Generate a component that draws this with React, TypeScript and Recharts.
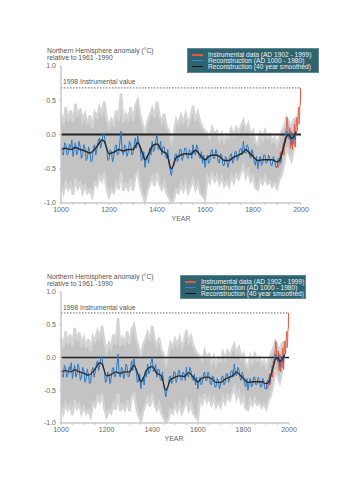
import { Area, ComposedChart, Line, ReferenceLine, XAxis, YAxis } from "recharts";

const FONT = '"Liberation Sans", Arial, sans-serif';

// annual reconstruction, read every 5 years from 1000 to 1980
const reconStart = 1000;
const reconStep = 5;
const reconValues = [
  -0.18, -0.28, -0.3, -0.12, -0.15, -0.3, -0.28, -0.14, -0.2, -0.08,
  -0.32, -0.22, -0.12, -0.3, -0.25, -0.1, -0.18, -0.35, -0.3, -0.15,
  -0.2, -0.38, -0.34, -0.18, -0.25, -0.4, -0.38, -0.2, -0.15, -0.3,
  -0.22, -0.1, -0.05, -0.2, -0.12, 0.0, 0.02, -0.15, -0.2, -0.38,
  -0.36, -0.22, -0.25, -0.4, -0.32, -0.18, -0.15, -0.3, -0.28, -0.12,
  0.05, -0.25, -0.3, -0.15, -0.18, -0.32, -0.26, -0.1, -0.14, -0.3,
  -0.28, -0.15, -0.05, -0.2, -0.02, -0.15, -0.22, -0.38, -0.35, -0.25,
  -0.48, -0.35, -0.3, -0.42, -0.2, -0.3, -0.1, -0.25, -0.22, -0.08,
  0.0, -0.22, -0.2, -0.1, -0.3, -0.18, -0.18, -0.32, -0.35, -0.22,
  -0.42, -0.52, -0.6, -0.48, -0.45, -0.3, -0.28, -0.4, -0.35, -0.22,
  -0.22, -0.38, -0.32, -0.2, -0.2, -0.33, -0.35, -0.22, -0.25, -0.35,
  -0.15, -0.28, -0.3, -0.15, -0.2, -0.32, -0.35, -0.25, -0.42, -0.3,
  -0.48, -0.38, -0.3, -0.42, -0.38, -0.25, -0.22, -0.35, -0.35, -0.22,
  -0.28, -0.4, -0.42, -0.28, -0.3, -0.45, -0.45, -0.32, -0.35, -0.48,
  -0.42, -0.3, -0.28, -0.42, -0.38, -0.25, -0.25, -0.38, -0.32, -0.22,
  -0.2, -0.3, -0.1, -0.25, -0.28, -0.15, -0.18, -0.3, -0.35, -0.22,
  -0.28, -0.4, -0.45, -0.32, -0.5, -0.38, -0.32, -0.45, -0.42, -0.3,
  -0.3, -0.42, -0.4, -0.3, -0.35, -0.45, -0.45, -0.32, -0.38, -0.48,
  -0.48, -0.35, -0.35, -0.42, -0.28, -0.2, -0.15, -0.05, 0.05, -0.02,
  -0.05, 0.03, -0.15, -0.05, 0.02, -0.08, 0.05,
];

// uncertainty band, read every 10 years from 1000 to 1980
const bandStep = 10;
const bandHigh = [
  0.3, 0.15, 0.4, 0.2, 0.35, 0.18, 0.45, 0.25, 0.38, 0.2,
  0.3, 0.15, 0.28, 0.1, 0.32, 0.25, 0.4, 0.3, 0.48, 0.25,
  0.1, 0.22, 0.15, 0.35, 0.2, 0.6, 0.18, 0.3, 0.22, 0.4,
  0.2, 0.42, 0.5, 0.28, 0.15, 0.02, 0.18, 0.28, 0.38, 0.25,
  0.48, 0.28, 0.18, 0.3, 0.12, 0.05, -0.1, 0.02, 0.22, 0.15,
  0.28, 0.18, 0.3, 0.15, 0.25, 0.42, 0.2, 0.32, 0.18, 0.1,
  0.05, 0.02, -0.05, 0.1, 0.0, 0.05, -0.08, 0.02, -0.1, 0.0,
  -0.05, 0.08, -0.02, 0.1, 0.02, 0.12, 0.2, 0.05, 0.15, -0.02,
  0.05, -0.1, -0.15, 0.02, -0.08, 0.05, -0.05, 0.0, -0.1, -0.05,
  -0.15, -0.05, 0.05, 0.12, 0.25, 0.18, 0.1, 0.22, 0.25,
];
const bandLow = [
  -0.75, -0.85, -0.7, -0.8, -0.72, -0.88, -0.65, -0.78, -0.7, -0.85,
  -0.75, -0.85, -0.8, -0.9, -0.7, -0.75, -0.6, -0.68, -0.55, -0.78,
  -0.9, -0.8, -0.85, -0.7, -0.8, -0.55, -0.82, -0.72, -0.8, -0.65,
  -0.82, -0.6, -0.55, -0.75, -0.88, -0.98, -0.82, -0.72, -0.62, -0.75,
  -0.55, -0.72, -0.8, -0.7, -0.85, -0.92, -1.0, -0.95, -0.8, -0.85,
  -0.72, -0.82, -0.7, -0.85, -0.75, -0.65, -0.8, -0.7, -0.85, -0.9,
  -0.95, -0.62, -0.7, -0.55, -0.68, -0.6, -0.72, -0.62, -0.75, -0.68,
  -0.75, -0.6, -0.7, -0.58, -0.65, -0.55, -0.45, -0.62, -0.52, -0.68,
  -0.6, -0.78, -0.8, -0.65, -0.72, -0.62, -0.72, -0.68, -0.76, -0.7,
  -0.78, -0.65, -0.58, -0.42, -0.18, -0.28, -0.38, -0.2, -0.15,
];

// 40 year smoothed reconstruction
const smoothYears = [
  1000, 1020, 1040, 1060, 1080, 1100, 1120, 1140, 1160, 1170, 1180, 1200, 1220, 1240, 1260,
  1280, 1300, 1320, 1340, 1350, 1360, 1380, 1400, 1420, 1440, 1460, 1480, 1500, 1520, 1540,
  1560, 1580, 1600, 1620, 1640, 1660, 1680, 1700, 1720, 1740, 1760, 1770, 1780, 1800, 1820,
  1840, 1860, 1880, 1900, 1910, 1920, 1930, 1940, 1950, 1960, 1970, 1980,
];
const smoothValues = [
  -0.22, -0.2, -0.22, -0.19, -0.22, -0.24, -0.27, -0.22, -0.12, -0.08, -0.1, -0.28, -0.26, -0.22, -0.24,
  -0.22, -0.22, -0.12, -0.28, -0.37, -0.32, -0.17, -0.14, -0.24, -0.28, -0.5, -0.34, -0.3, -0.28, -0.29,
  -0.23, -0.3, -0.37, -0.31, -0.3, -0.32, -0.38, -0.38, -0.33, -0.3, -0.26, -0.22, -0.25, -0.32, -0.38,
  -0.37, -0.37, -0.37, -0.4, -0.38, -0.28, -0.15, -0.03, 0.0, -0.06, -0.03, 0.04,
];

// instrumental record
const instYears = [
  1902, 1905, 1908, 1911, 1914, 1917, 1920, 1923, 1926, 1929, 1931, 1934, 1937, 1940, 1941,
  1944, 1946, 1949, 1951, 1953, 1956, 1958, 1961, 1964, 1967, 1969, 1971, 1973, 1976, 1978,
  1980, 1981, 1983, 1985, 1987, 1988, 1990, 1991, 1992, 1994, 1995, 1997, 1998, 1999,
];
const instValues = [
  -0.38, -0.48, -0.45, -0.4, -0.25, -0.4, -0.28, -0.25, -0.12, -0.3, -0.05, -0.12, 0.05, 0.1, 0.25,
  0.22, 0.0, -0.02, -0.08, 0.1, -0.2, 0.05, 0.05, -0.22, -0.05, -0.1, -0.15, 0.15, -0.18, 0.0,
  0.12, 0.22, 0.25, 0.05, 0.28, 0.3, 0.4, 0.38, 0.15, 0.25, 0.4, 0.45, 0.68, 0.45,
];

const record1998 = 0.68;
const yTicks = [-1, -0.5, 0, 0.5, 1];
const xTicks = [1000, 1050, 1100, 1150, 1200, 1250, 1300, 1350, 1400, 1450, 1500, 1550, 1600, 1650, 1700, 1750, 1800, 1850, 1900, 1950, 2000];
const xLabels = [1000, 1200, 1400, 1600, 1800, 2000];
const legendItems = [
  { label: "Instrumental data (AD 1902 - 1999)", color: "#e4573f" },
  { label: "Reconstruction (AD 1000 - 1980)", color: "#3c82c8" },
  { label: "Reconstruction (40 year smoothed)", color: "#111" },
];

const reconData = reconValues.map((v, i) => ({ year: reconStart + i * reconStep, v }));
const bandData = bandHigh.map((h, i) => ({ year: reconStart + i * bandStep, range: [bandLow[i], h] }));
const smoothData = smoothYears.map((year, i) => ({ year, v: smoothValues[i] }));
const instData = instYears.map((year, i) => ({ year, v: instValues[i] }));

const panels = [
  { top: 0, height: 230, plotTop: 66, plotBottom: 203, plotRight: 301, legend: { x: 187, y: 48, w: 132, h: 25 }, yearX: 181, zero: 2, smooth: 1.5 },
  { top: 240, height: 220, plotTop: 52, plotBottom: 183, plotRight: 289, legend: { x: 180, y: 35, w: 126, h: 24 }, yearX: 174, zero: 1.6, smooth: 1.3 },
];

const textStyle = { position: "absolute" as const, fontFamily: FONT, fontSize: 6.8, color: "#555", whiteSpace: "nowrap" as const, lineHeight: "7px" };

function Panel({ p }: { p: (typeof panels)[number] }) {
  const xAxisH = 16;
  return (
    <div style={{ position: "absolute", left: 0, top: p.top, width: 354, height: p.height }}>
      <ComposedChart
        width={354}
        height={p.height}
        margin={{ top: p.plotTop, right: 354 - p.plotRight, bottom: p.height - p.plotBottom - xAxisH, left: 31 }}
      >
        <XAxis
          dataKey="year"
          type="number"
          domain={[1000, 2000]}
          ticks={xTicks}
          interval={0}
          tickFormatter={(v) => (xLabels.includes(v) ? String(v) : "")}
          height={xAxisH}
          tickSize={2}
          tickMargin={2}
          axisLine={{ stroke: "#c8c8c8", strokeWidth: 1.5 }}
          tickLine={{ stroke: "#c8c8c8" }}
          tick={{ fill: "#666", fontSize: 7, fontFamily: FONT }}
          allowDataOverflow
        />
        <YAxis
          type="number"
          domain={[-1, 1]}
          ticks={yTicks}
          interval={0}
          width={30}
          tickSize={2}
          tickMargin={3}
          tickFormatter={(v) => v.toFixed(1)}
          axisLine={{ stroke: "#c8c8c8", strokeWidth: 1.5 }}
          tickLine={{ stroke: "#c8c8c8" }}
          tick={{ fill: "#666", fontSize: 7, fontFamily: FONT }}
          allowDataOverflow
        />
        <Area data={bandData} dataKey="range" type="linear" stroke="#d4d4d4" strokeWidth={2.5} fill="#c3c3c3" fillOpacity={1} isAnimationActive={false} />
        <ReferenceLine y={0} stroke="#222" strokeWidth={p.zero} />
        <ReferenceLine y={record1998} stroke="#666" strokeDasharray="1.5 1.5" />
        <Line data={instData} dataKey="v" stroke="#e4573f" strokeWidth={0.9} dot={false} isAnimationActive={false} />
        <Line data={reconData} dataKey="v" stroke="#2a78c6" strokeWidth={1} dot={false} isAnimationActive={false} />
        <Line data={smoothData} dataKey="v" type="monotone" stroke="#2b2b2b" strokeWidth={p.smooth} dot={false} isAnimationActive={false} />
      </ComposedChart>

      <div style={{ ...textStyle, left: 47, top: p.plotTop - 19.5 }}>
        Northern Hemisphere anomaly (°C)
        <br />
        relative to 1961 -1990
      </div>
      <div style={{ ...textStyle, left: 63, top: p.plotTop + 12 }}>1998 Instrumental value</div>
      <div style={{ ...textStyle, left: p.yearX - 20, width: 40, textAlign: "center", top: p.plotBottom + 11.5, fontSize: 7, color: "#666" }}>YEAR</div>

      <div
        style={{
          position: "absolute",
          left: p.legend.x,
          top: p.legend.y,
          width: p.legend.w,
          height: p.legend.h,
          background: "#2e6370",
          boxSizing: "border-box",
          border: "1px solid #5d8a94",
          padding: "3px 0 0 4px",
        }}
      >
        {legendItems.map((it) => (
          <div key={it.label} style={{ display: "flex", alignItems: "center", height: 5.8 }}>
            <span style={{ width: 11, height: 1.6, background: it.color, marginRight: 5 }} />
            <span style={{ fontFamily: FONT, fontSize: 6.6, color: "#eef2f3", whiteSpace: "nowrap", lineHeight: "6px" }}>{it.label}</span>
          </div>
        ))}
      </div>
    </div>
  );
}

export default function App() {
  return (
    <div style={{ position: "absolute", left: 0, top: 0, width: 354, height: 500, background: "#fff" }}>
      {panels.map((p) => (
        <Panel key={p.top} p={p} />
      ))}
    </div>
  );
}
